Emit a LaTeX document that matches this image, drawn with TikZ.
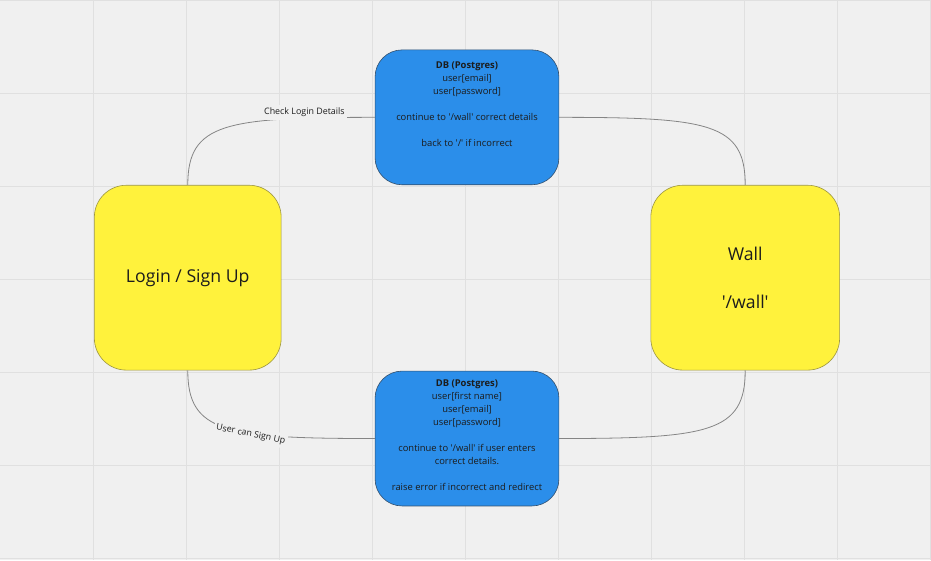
\documentclass[tikz,border=0pt]{standalone}
\usepackage{fontspec}
\setmainfont{Open Sans}
\usepackage{xcolor}
\usetikzlibrary{positioning}
\definecolor{canvas}{HTML}{F0F0F0}
\definecolor{gridline}{HTML}{E0E0E0}
\definecolor{sticky}{HTML}{FFF23C}
\definecolor{stickyedge}{HTML}{9C9540}
\definecolor{dbblue}{HTML}{2B8EEA}
\definecolor{dbedge}{HTML}{33506E}
\definecolor{ink}{HTML}{1C1C1C}
\definecolor{wire}{HTML}{858585}
\newcommand{\sq}{\textquotesingle}

\begin{document}
\begin{tikzpicture}[x=1pt, y=-1pt,
    page/.style={rounded corners=32pt, draw=stickyedge, fill=sticky,
                 line width=0.6pt, minimum width=187pt, minimum height=185pt,
                 text=ink, align=center, font=\fontsize{17.7}{24}\selectfont},
    dbbox/.style={rounded corners=27pt, draw=dbedge, fill=dbblue,
                  line width=0.6pt, minimum width=184pt, minimum height=135pt},
    dbtext/.style={text=ink, align=center, inner sep=0pt,
                   font=\fontsize{9.4}{13}\selectfont},
    wiring/.style={draw=wire, line width=0.8pt},
    tag/.style={fill=canvas, text=ink, inner xsep=2pt, inner ysep=3pt,
                font=\fontsize{8.9}{10}\selectfont}]
  % board
  \fill[canvas] (0,0) rectangle (931,560);
  \foreach \k in {1,...,10}
    \draw[gridline, line width=0.9pt] (93.1*\k,0) -- (93.1*\k,560);
  \foreach \k in {0,...,6}
    \draw[gridline, line width=0.9pt] (0,93.1*\k) -- (931,93.1*\k);
  \useasboundingbox (0,0) rectangle (931,560);

  % stickies
  \node[page] (login) at (187.5,277.5) {Login / Sign Up};
  \node[page, minimum width=189pt] (wall) at (745.5,277.5) {Wall\\[24pt]\sq/wall\sq};

  % db cards
  \node[dbbox] (dbLogin) at (467,117) {};
  \node[dbtext, below=12pt of dbLogin.north] (dbLoginText)
    {\textbf{DB (Postgres)}\\user[email]\\user[password]\\[13pt]
     continue to \sq/wall\sq{} correct details\\[13pt]back to \sq/\sq{} if incorrect};
  \node[dbbox] (dbSignup) at (467,438.5) {};
  \node[dbtext, below=9pt of dbSignup.north] (dbSignupText)
    {\textbf{DB (Postgres)}\\user[first name]\\user[email]\\user[password]\\[13pt]
     continue to \sq/wall\sq{} if user enters\\correct details.\\[13pt]
     raise error if incorrect and redirect};

  % connectors
  \draw[wiring] (login.north) .. controls +(0,-62) and +(-150,0) .. (dbLogin.west)
    node[tag, pos=0.82, yshift=6pt] (checkTag) {Check Login Details};
  \draw[wiring] (dbLogin.east) .. controls +(150,0) and +(0,-62) .. (wall.north);
  \draw[wiring] (login.south) .. controls +(0,62) and +(-150,0) .. (dbSignup.west)
    node[tag, pos=0.63, rotate=-11, yshift=-1pt] (signupTag) {User can Sign Up};
  \draw[wiring] (wall.south) .. controls +(0,62) and +(150,0) .. (dbSignup.east);
\end{tikzpicture}
\end{document}
